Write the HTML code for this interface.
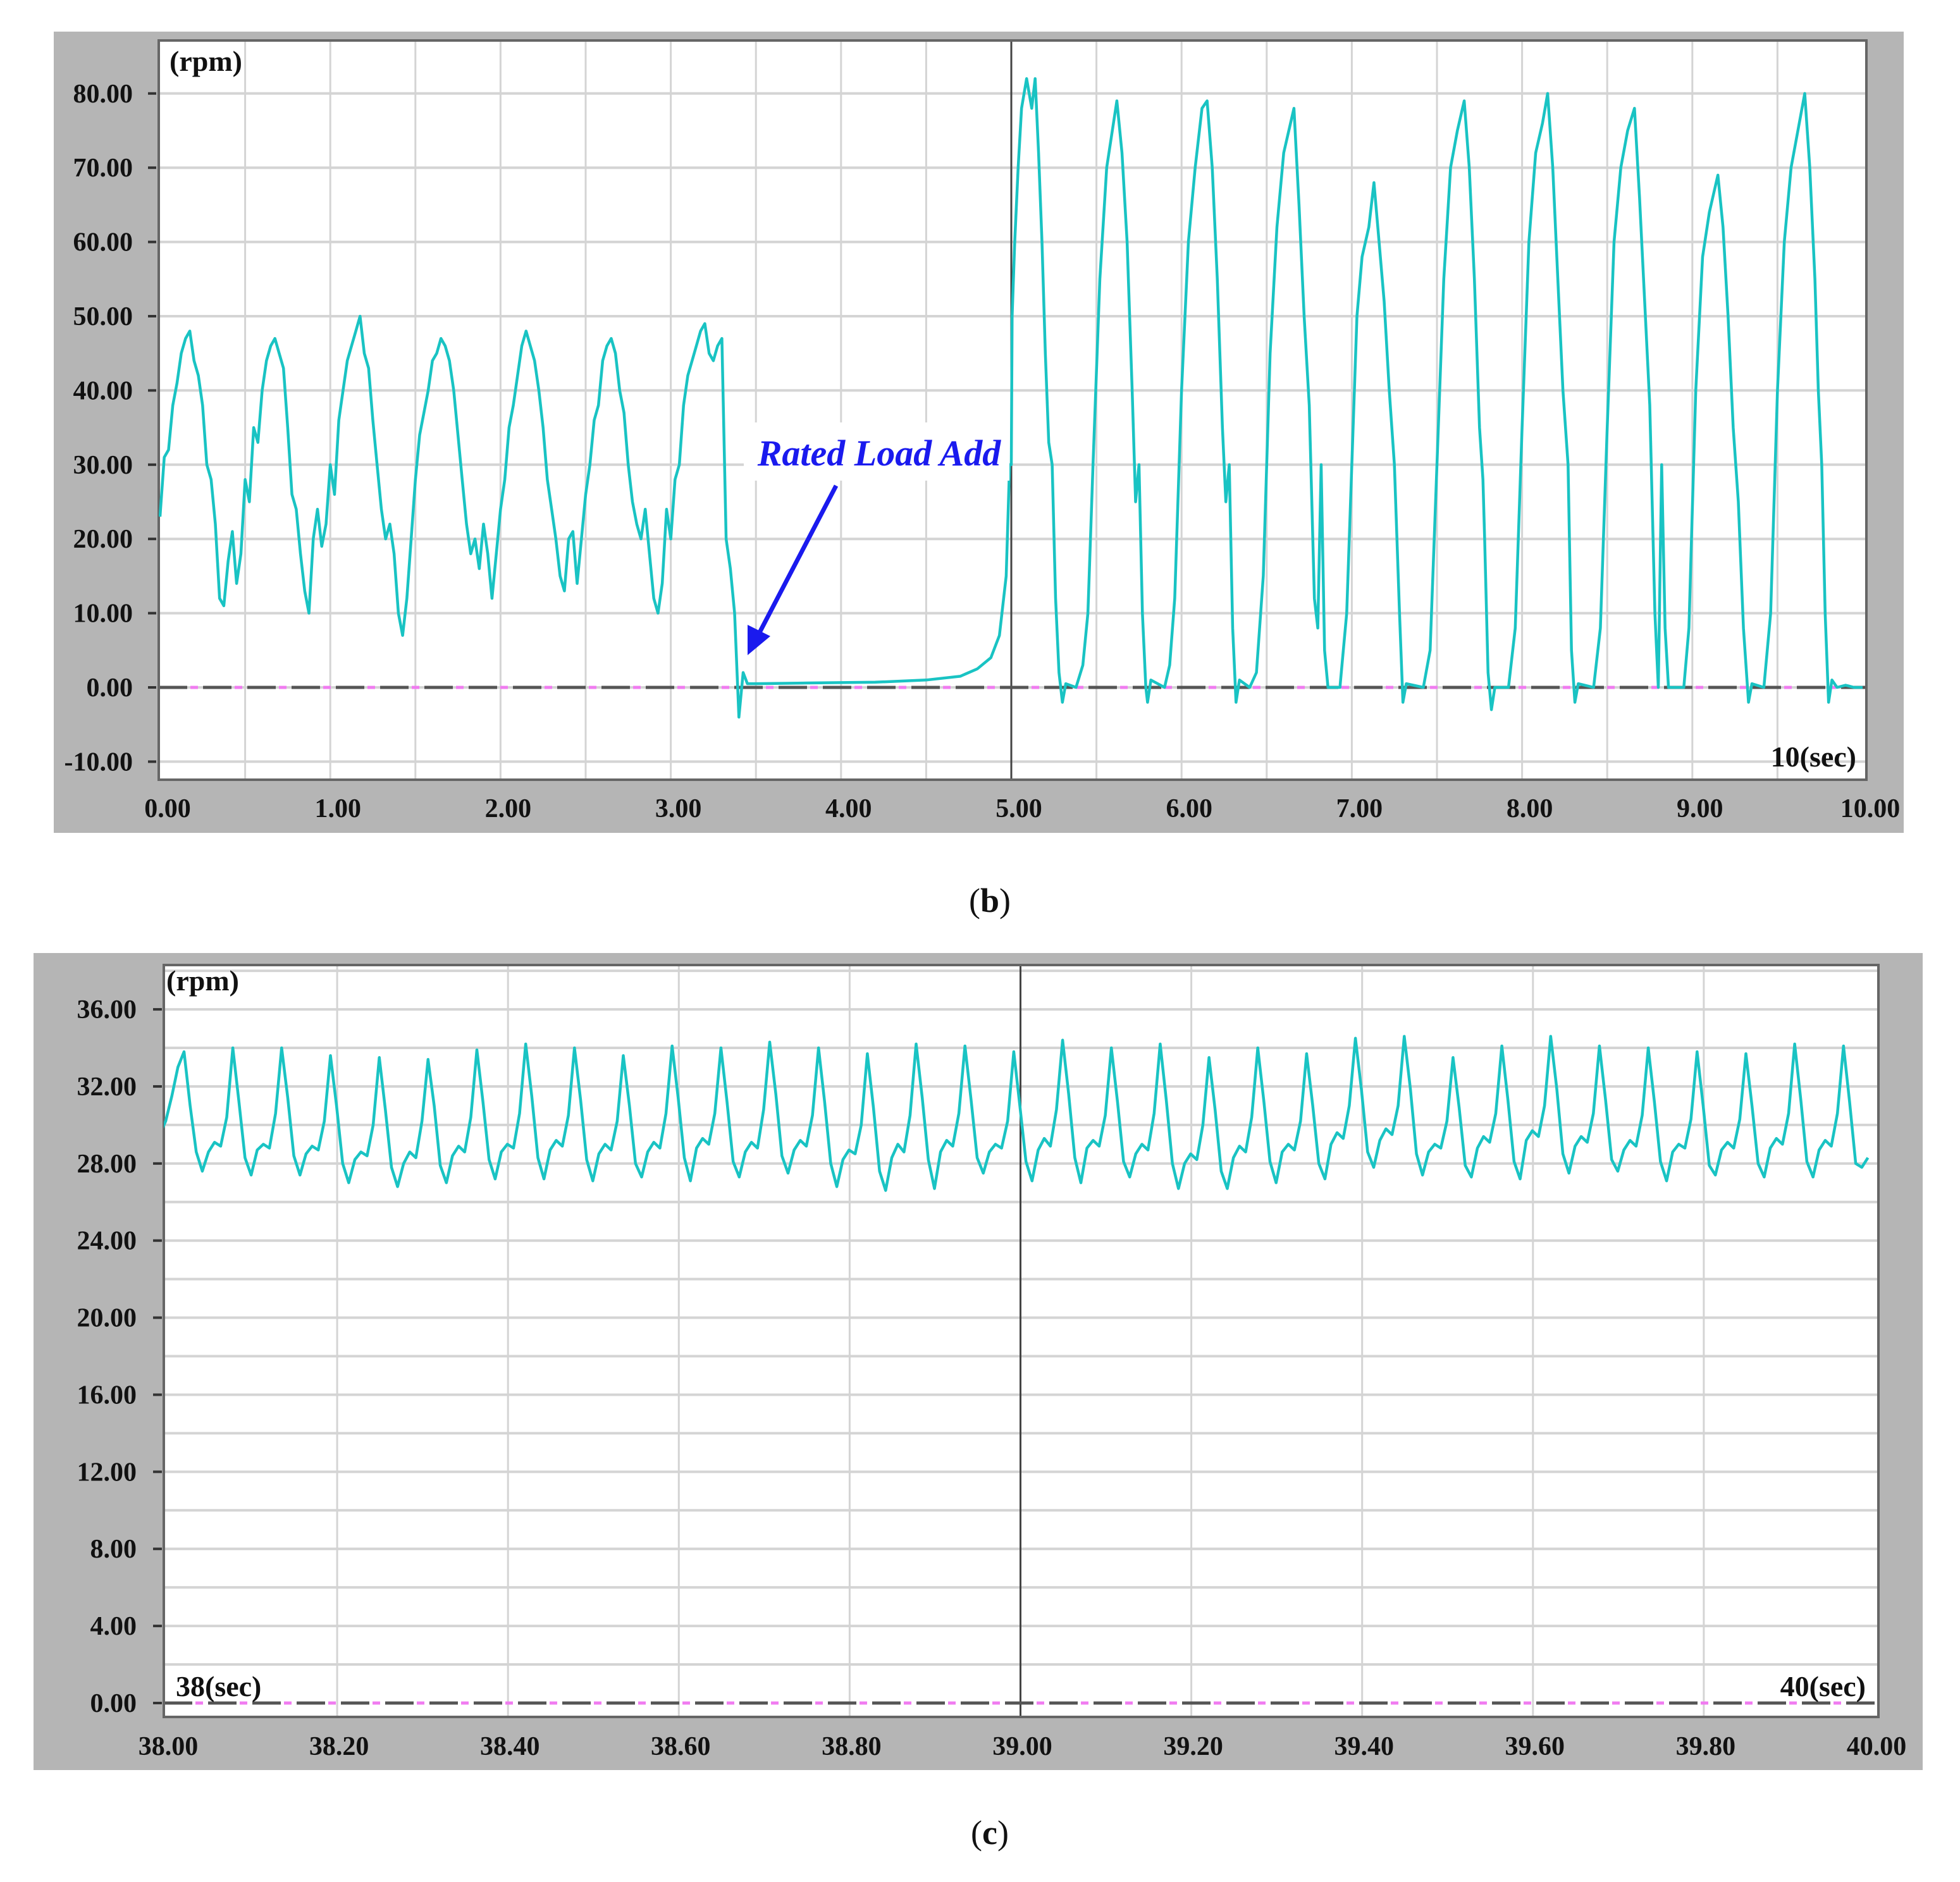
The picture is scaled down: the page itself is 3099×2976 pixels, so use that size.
<!DOCTYPE html>
<html><head><meta charset="utf-8"><style>
html,body{margin:0;padding:0;background:#fff;}
svg{display:block;}
text{font-family:"Liberation Serif",serif;font-weight:bold;fill:#111;}
</style></head><body>
<svg id="fig" width="3099" height="2976" viewBox="0 0 3099 2976" xmlns="http://www.w3.org/2000/svg">
<defs>
<clipPath id="clipTop"><rect x="251" y="64" width="2700" height="1169"/></clipPath>
<clipPath id="clipBot"><rect x="259" y="1526" width="2711" height="1189"/></clipPath>
</defs>
<g id="top"></g>
<g id="bot"></g>
</svg>
<script>
// ---------- Chart (b) data ----------
const topYTicks = [-10,0,10,20,30,40,50,60,70,80];
const topXTicks = [0,1,2,3,4,5,6,7,8,9,10];
const topXLabels = ["0.00","1.00","2.00","3.00","4.00","5.00","6.00","7.00","8.00","9.00","10.00"];
const topYLabels = ["-10.00","0.00","10.00","20.00","30.00","40.00","50.00","60.00","70.00","80.00"];
const topSegAStep = 0.025;
const topSegAValues = [
23,31,32,38,41,45,47,48,44,42,38,30,28,22,12,11,17,21,14,18,
28,25,35,33,40,44,46,47,45,43,35,26,24,18,13,10,20,24,19,22,
30,26,36,40,44,46,48,50,45,43,36,30,24,20,22,18,10,7,12,20,
28,34,37,40,44,45,47,46,44,40,34,28,22,18,20,16,22,18,12,18,
24,28,35,38,42,46,48,46,44,40,35,28,24,20,15,13,20,21,14,20,
26,30,36,38,44,46,47,45,40,37,30,25,22,20,24,18,12,10,14,24,
20,28,30,38,42,44,46,48,49,45,44,46,47,20,16,10,-4,2,0.5
];
const topSegBTimes = [3.5,3.8,4.2,4.5,4.7,4.8,4.88,4.93,4.97,4.99,5.0,5.005,5.02,5.04,
5.06,5.09,5.12,5.14,5.16,5.18,5.2,5.22,5.24,5.26,5.28,5.3,5.32,5.38,5.42,
5.45,5.48,5.52,5.56,5.6,5.62,5.65,5.68,5.71,5.73,5.75,5.77,5.79,5.8,5.82,5.9,5.93,
5.96,6.0,6.04,6.08,6.12,6.15,6.18,6.21,6.24,6.26,6.28,6.3,6.32,6.34,6.4,6.44,
6.48,6.52,6.56,6.6,6.64,6.66,6.69,6.72,6.75,6.78,6.8,6.82,6.84,6.86,6.93,
6.97,7.0,7.03,7.06,7.1,7.13,7.16,7.19,7.22,7.25,7.28,7.3,7.32,7.42,
7.46,7.5,7.54,7.58,7.62,7.66,7.69,7.72,7.75,7.77,7.78,7.8,7.82,7.84,7.92,
7.96,8.0,8.04,8.08,8.12,8.15,8.18,8.21,8.24,8.27,8.29,8.31,8.33,8.42,
8.46,8.5,8.54,8.58,8.62,8.66,8.69,8.72,8.75,8.78,8.8,8.82,8.84,8.86,8.95,
8.98,9.02,9.06,9.1,9.15,9.18,9.21,9.24,9.27,9.3,9.33,9.35,9.42,
9.46,9.5,9.54,9.58,9.62,9.66,9.69,9.72,9.74,9.76,9.78,9.8,9.82,9.85,9.9,9.95,10.0];
const topSegBValues = [0.5,0.6,0.7,1,1.5,2.5,4,7,15,30,30,50,60,70,
78,82,78,82,72,60,45,33,30,12,2,-2,0.5,0,3,
10,30,55,70,76,79,72,60,40,25,30,10,0,-2,1,0,3,
12,40,60,70,78,79,70,55,35,25,30,8,-2,1,0,2,
15,45,62,72,76,78,65,50,38,12,8,30,5,0,0,
10,30,50,58,62,68,60,52,40,30,10,-2,0.5,0,
5,30,55,70,75,79,70,55,35,28,20,2,-3,0,0,
8,35,60,72,76,80,70,55,40,30,5,-2,0.5,0,
8,35,60,70,75,78,66,52,38,10,0,30,8,0,0,
8,40,58,64,69,62,50,35,25,8,-2,0.5,0,
10,40,60,70,75,80,70,55,40,30,10,-2,1,0,0.3,0,0];

// ---------- Chart (c) data ----------
const botYTicks = [0,4,8,12,16,20,24,28,32,36];
const botYLabels = ["0.00","4.00","8.00","12.00","16.00","20.00","24.00","28.00","32.00","36.00"];
const botXTicks = [38,38.2,38.4,38.6,38.8,39,39.2,39.4,39.6,39.8,40];
const botXLabels = ["38.00","38.20","38.40","38.60","38.80","39.00","39.20","39.40","39.60","39.80","40.00"];
const botStart = 37.985;
const botStep = 2/280;
const botValues = [
28.8,29.5,30.2,31.5,33.0,33.8,31.0,28.6,
27.6,28.6,29.1,28.9,30.4,34.0,31.2,28.3,
27.4,28.7,29.0,28.8,30.6,34.0,31.4,28.4,
27.4,28.5,28.9,28.7,30.2,33.6,31.0,28.0,
27.0,28.2,28.6,28.4,30.0,33.5,30.8,27.8,
26.8,28.0,28.6,28.3,30.2,33.4,31.0,27.9,
27.0,28.4,28.9,28.6,30.4,33.9,31.2,28.2,
27.2,28.6,29.0,28.8,30.6,34.2,31.5,28.3,
27.2,28.7,29.2,28.9,30.5,34.0,31.3,28.2,
27.1,28.5,29.0,28.7,30.2,33.6,31.0,28.0,
27.3,28.6,29.1,28.8,30.6,34.1,31.4,28.3,
27.1,28.8,29.3,29.0,30.6,34.0,31.2,28.1,
27.3,28.6,29.1,28.8,30.8,34.3,31.6,28.4,
27.5,28.7,29.2,28.9,30.5,34.0,31.2,28.0,
26.8,28.2,28.7,28.5,30.0,33.7,30.9,27.6,
26.6,28.3,29.0,28.6,30.5,34.2,31.4,28.2,
26.7,28.6,29.2,28.9,30.6,34.1,31.3,28.3,
27.5,28.6,29.0,28.8,30.2,33.8,31.0,28.1,
27.1,28.7,29.3,28.9,30.8,34.4,31.6,28.3,
27.0,28.8,29.2,28.9,30.5,34.0,31.2,28.1,
27.3,28.5,29.0,28.7,30.6,34.2,31.3,28.0,
26.7,28.0,28.5,28.2,30.0,33.5,30.8,27.6,
26.7,28.3,28.9,28.6,30.4,34.0,31.2,28.1,
27.0,28.6,29.0,28.7,30.2,33.7,31.0,28.0,
27.2,29.0,29.6,29.3,31.0,34.5,31.8,28.6,
27.8,29.2,29.8,29.5,31.0,34.6,31.9,28.5,
27.4,28.6,29.0,28.8,30.2,33.5,30.9,27.9,
27.3,28.8,29.4,29.1,30.6,34.1,31.3,28.1,
27.2,29.2,29.7,29.4,31.0,34.6,31.9,28.5,
27.5,28.9,29.4,29.1,30.6,34.1,31.3,28.2,
27.6,28.7,29.2,28.9,30.5,34.0,31.2,28.1,
27.1,28.6,29.0,28.8,30.3,33.8,31.0,27.9,
27.4,28.7,29.1,28.8,30.3,33.7,31.0,28.0,
27.3,28.8,29.3,29.0,30.6,34.2,31.3,28.1,
27.3,28.7,29.2,28.9,30.6,34.1,31.2,28.0,
27.8,28.3];

const NS = "http://www.w3.org/2000/svg";
function mk(parent, tag, attrs, txt){
  const e = document.createElementNS(NS, tag);
  for (const k in attrs) e.setAttribute(k, attrs[k]);
  if (txt !== undefined) e.textContent = txt;
  parent.appendChild(e);
  return e;
}
const TEAL = "#19c3c3";

// ===== Chart (b) =====
const gT = document.getElementById('top');
const xT = t => 253 + t * 269.2;
const yT = v => 1087 - v * 11.74;
let e;
e = mk(gT,'rect',{x:85,y:50,width:2925,height:1267,fill:'#b5b5b5'});


e = mk(gT,'rect',{x:251,y:64,width:2700,height:1169,fill:'#fff'});


for (let v=-10; v<=80; v+=10){
  e = mk(gT,'line',{x1:251,x2:2951,y1:yT(v),y2:yT(v),stroke:'#d4d4d4','stroke-width':4});
  
  
}
for (let t=0.5; t<10; t+=0.5){
  if (Math.abs(t-5)<1e-6) continue;
  e = mk(gT,'line',{x1:xT(t),x2:xT(t),y1:64,y2:1233,stroke:'#d4d4d4','stroke-width':3});
  
  
}
e = mk(gT,'line',{x1:xT(5),x2:xT(5),y1:64,y2:1233,stroke:'#444','stroke-width':3});


e = mk(gT,'line',{x1:251,x2:2951,y1:yT(0),y2:yT(0),stroke:'#555','stroke-width':5,'stroke-dasharray':'45 25'});


e = mk(gT,'line',{x1:251,x2:2951,y1:yT(0),y2:yT(0),stroke:'#f07cf0','stroke-width':5,'stroke-dasharray':'12 58','stroke-dashoffset':'-50'});


e = mk(gT,'rect',{x:251,y:64,width:2700,height:1169,fill:'none',stroke:'#666','stroke-width':4});


topYTicks.forEach((v,i)=>{
  e = mk(gT,'line',{x1:234,x2:247,y1:yT(v),y2:yT(v),stroke:'#333','stroke-width':4});
  
  
  e = mk(gT,'text',{x:210,y:yT(v)+14,'text-anchor':'end','font-size':42},topYLabels[i]);
  
  
});
topXTicks.forEach((t,i)=>{
  e = mk(gT,'text',{x:xT(t)+12,y:1292,'text-anchor':'middle','font-size':42},topXLabels[i]);
  
  
});
e = mk(gT,'text',{x:268,y:112,'font-size':46},'(rpm)');


e = mk(gT,'text',{x:2935,y:1212,'text-anchor':'end','font-size':46},'10(sec)');


{
  let pts = [];
  topSegAValues.forEach((v,i)=>pts.push(xT(i*topSegAStep).toFixed(1)+','+yT(v).toFixed(1)));
  topSegBTimes.forEach((t,i)=>pts.push(xT(t).toFixed(1)+','+yT(topSegBValues[i]).toFixed(1)));
  e = mk(gT,'polyline',{points:pts.join(' '),fill:'none',stroke:TEAL,'stroke-width':4.5,'stroke-linejoin':'round','clip-path':'url(#clipTop)'});
  
  
}
e = mk(gT,'rect',{x:1176,y:668,width:420,height:92,fill:'#fff'});


e = mk(gT,'text',{x:1390,y:736,'text-anchor':'middle','font-size':58,'font-style':'italic',style:'fill:#1a1aee'},'Rated Load Add');


e = mk(gT,'line',{x1:1322,y1:768,x2:1200,y2:1002,stroke:'#1a1aee','stroke-width':7});


e = mk(gT,'polygon',{points:'1182,1036 1182,988 1218,1006',fill:'#1a1aee'});


e = mk(gT,'text',{x:1565,y:1442,'text-anchor':'middle','font-size':54,style:'font-weight:normal'},'');
e.innerHTML = '(<tspan font-weight="bold">b</tspan>)';



// ===== Chart (c) =====
const gB = document.getElementById('bot');
const xB = t => 263 + (t-38) * 1350.5;
const yB = v => 2693 - v * 30.47;
e = mk(gB,'rect',{x:53,y:1507,width:2987,height:1292,fill:'#b5b5b5'});


e = mk(gB,'rect',{x:259,y:1526,width:2711,height:1189,fill:'#fff'});


for (let v=2; v<=38; v+=2){
  e = mk(gB,'line',{x1:259,x2:2970,y1:yB(v),y2:yB(v),stroke:'#d4d4d4','stroke-width':4});
  
  
}
botXTicks.forEach(t=>{
  if (t===38 || t===40 || t===39) return;
  e = mk(gB,'line',{x1:xB(t),x2:xB(t),y1:1526,y2:2715,stroke:'#d4d4d4','stroke-width':3});
  
  
});
e = mk(gB,'line',{x1:xB(39),x2:xB(39),y1:1526,y2:2715,stroke:'#444','stroke-width':3});


e = mk(gB,'line',{x1:259,x2:2970,y1:yB(0),y2:yB(0),stroke:'#555','stroke-width':5,'stroke-dasharray':'45 25'});


e = mk(gB,'line',{x1:259,x2:2970,y1:yB(0),y2:yB(0),stroke:'#f07cf0','stroke-width':5,'stroke-dasharray':'12 58','stroke-dashoffset':'-50'});


e = mk(gB,'rect',{x:259,y:1526,width:2711,height:1189,fill:'none',stroke:'#666','stroke-width':4});


botYTicks.forEach((v,i)=>{
  e = mk(gB,'line',{x1:242,x2:256,y1:yB(v),y2:yB(v),stroke:'#333','stroke-width':4});
  
  
  e = mk(gB,'text',{x:216,y:yB(v)+14,'text-anchor':'end','font-size':42},botYLabels[i]);
  
  
});
botXTicks.forEach((t,i)=>{
  e = mk(gB,'text',{x:xB(t)+3,y:2775,'text-anchor':'middle','font-size':42},botXLabels[i]);
  
  
});
e = mk(gB,'text',{x:263,y:1566,'font-size':46},'(rpm)');


e = mk(gB,'text',{x:278,y:2682,'font-size':46},'38(sec)');


e = mk(gB,'text',{x:2950,y:2682,'text-anchor':'end','font-size':46},'40(sec)');


{
  const pts = botValues.map((v,i)=>xB(botStart+i*botStep).toFixed(1)+','+yB(v).toFixed(1));
  e = mk(gB,'polyline',{points:pts.join(' '),fill:'none',stroke:TEAL,'stroke-width':4.5,'stroke-linejoin':'round','clip-path':'url(#clipBot)'});
  
  
}
e = mk(gB,'text',{x:1565,y:2916,'text-anchor':'middle','font-size':54,style:'font-weight:normal'},'');
e.innerHTML = '(<tspan font-weight="bold">c</tspan>)';


</script>
</body></html>
